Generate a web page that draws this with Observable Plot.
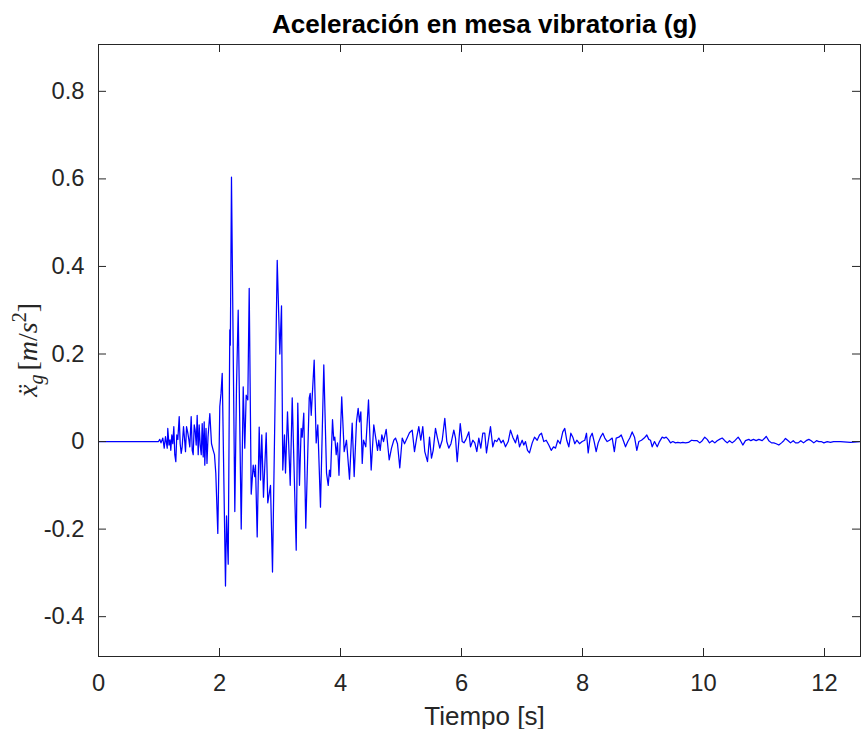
<!DOCTYPE html>
<html>
<head>
<meta charset="utf-8">
<script src="https://cdn.jsdelivr.net/npm/d3@7"></script>
<script src="https://cdn.jsdelivr.net/npm/@observablehq/plot@0.6"></script>
<style>
  html, body { margin: 0; padding: 0; background: #fff; }
</style>
</head>
<body>
<div id="chart"></div>
<script>
// ---- Data ----
const chartTitle = "Aceleración en mesa vibratoria (g)";
const xLabel = "Tiempo [s]";
const xTicks = [0, 2, 4, 6, 8, 10, 12];
const yTicks = [-0.4, -0.2, 0, 0.2, 0.4, 0.6, 0.8];
const xDomain = [0, 12.595];
const yDomain = [-0.491, 0.907];

const timeS = [
  0, 0.992, 1.013, 1.033, 1.063, 1.086, 1.107, 1.136, 1.145, 1.165, 1.182, 1.195, 1.212, 1.228, 1.245, 1.261,
  1.278, 1.294, 1.311, 1.334, 1.350, 1.367, 1.383, 1.405, 1.421, 1.438, 1.455, 1.476, 1.493, 1.509, 1.532,
  1.549, 1.565, 1.582, 1.598, 1.615, 1.631, 1.648, 1.664, 1.681, 1.698, 1.714, 1.731, 1.747, 1.757, 1.777,
  1.793, 1.810, 1.840, 1.868, 1.896, 1.917, 1.939, 1.972, 2.005, 2.025, 2.045, 2.099, 2.116, 2.144, 2.170,
  2.179, 2.198, 2.253, 2.281, 2.309, 2.359, 2.392, 2.418, 2.441, 2.468, 2.491, 2.524, 2.557, 2.583, 2.595,
  2.623, 2.656, 2.678, 2.699, 2.727, 2.772, 2.798, 2.843, 2.876, 2.954, 2.997, 3.025, 3.046, 3.074, 3.091,
  3.124, 3.169, 3.202, 3.268, 3.294, 3.322, 3.350, 3.367, 3.393, 3.426, 3.483, 3.499, 3.516, 3.565, 3.598,
  3.625, 3.669, 3.724, 3.769, 3.797, 3.818, 3.835, 3.868, 3.889, 3.906, 3.929, 3.950, 3.975, 4.020, 4.061,
  4.099, 4.149, 4.193, 4.226, 4.264, 4.292, 4.314, 4.336, 4.359, 4.380, 4.418, 4.463, 4.507, 4.550, 4.583,
  4.612, 4.633, 4.656, 4.683, 4.711, 4.755, 4.805, 4.843, 4.881, 4.909, 4.942, 4.980, 5.020, 5.058, 5.107,
  5.140, 5.185, 5.223, 5.261, 5.294, 5.327, 5.360, 5.393, 5.438, 5.471, 5.504, 5.532, 5.570, 5.603, 5.641,
  5.681, 5.724, 5.757, 5.790, 5.826, 5.873, 5.901, 5.929, 5.979, 6.012, 6.041, 6.074, 6.121, 6.149, 6.187,
  6.220, 6.253, 6.286, 6.319, 6.352, 6.385, 6.413, 6.441, 6.479, 6.517, 6.550, 6.583, 6.617, 6.656, 6.689,
  6.727, 6.772, 6.810, 6.848, 6.893, 6.926, 6.959, 7.003, 7.030, 7.058, 7.091, 7.124, 7.169, 7.207, 7.251,
  7.289, 7.322, 7.360, 7.400, 7.443, 7.483, 7.521, 7.554, 7.592, 7.631, 7.674, 7.707, 7.740, 7.774, 7.807,
  7.840, 7.873, 7.906, 7.950, 7.995, 8.038, 8.066, 8.094, 8.127, 8.160, 8.193, 8.226, 8.259, 8.298, 8.336,
  8.369, 8.408, 8.446, 8.491, 8.526, 8.557, 8.600, 8.640, 8.673, 8.711, 8.749, 8.782, 8.821, 8.860, 8.898,
  8.931, 8.975, 9.020, 9.063, 9.096, 9.124, 9.152, 9.190, 9.235, 9.273, 9.317, 9.350, 9.383, 9.417, 9.455,
  9.493, 9.537, 9.575, 9.620, 9.658, 9.702, 9.752, 9.802, 9.840, 9.896, 9.939, 9.979, 10.021, 10.061, 10.099,
  10.144, 10.187, 10.226, 10.264, 10.309, 10.352, 10.392, 10.430, 10.474, 10.518, 10.573, 10.612, 10.650, 10.694, 10.749,
  10.782, 10.826, 10.871, 10.914, 10.970, 11.014, 11.036, 11.079, 11.124, 11.162, 11.202, 11.245, 11.289, 11.327, 11.355,
  11.400, 11.438, 11.483, 11.521, 11.565, 11.608, 11.653, 11.697, 11.741, 11.780, 11.823, 11.868, 11.906, 11.945, 11.989,
  12.045, 12.099, 12.149, 12.264, 12.430, 12.595
];

const accelG = [
  0, 0, 0.005, -0.003, 0.008, -0.015, 0.011, -0.015, 0.030, -0.008, 0.004, -0.020, 0.015, -0.005, 0.034, -0.030,
  -0.046, 0.015, 0.005, 0.057, -0.005, -0.027, -0.012, 0.034, 0.008, -0.023, 0.034, 0.020, 0.005, -0.012, 0.057,
  -0.020, -0.030, 0.038, 0.026, -0.008, 0.060, -0.030, 0.038, -0.008, -0.030, 0.041, -0.035, 0.045, -0.054, 0.030,
  -0.050, 0.010, 0.064, -0.005, -0.020, -0.030, -0.073, -0.210, 0.080, 0.110, 0.156, -0.330, -0.170, -0.280, 0.255,
  0.220, 0.604, -0.160, 0.125, 0.300, -0.200, 0.125, -0.015, 0.106, 0.095, 0.350, -0.120, -0.054, -0.080, -0.054,
  -0.218, 0.033, -0.088, 0.015, -0.127, 0.020, -0.140, -0.100, -0.298, 0.414, 0.200, 0.310, -0.065, 0.015, -0.072,
  0.068, -0.100, 0.100, -0.248, 0.088, -0.100, 0.030, 0.010, 0.065, -0.198, 0.100, 0.110, 0.060, 0.186, -0.003,
  0.038, -0.150, 0.175, -0.072, -0.100, -0.065, -0.080, 0.050, 0.003, 0.010, -0.030, -0.003, -0.077, 0.102, -0.023,
  0.003, -0.086, 0.042, -0.080, 0.045, 0.076, 0.045, 0.068, -0.050, 0.003, -0.012, 0.095, -0.065, 0.038, 0.008,
  -0.020, 0.003, -0.020, 0.015, 0.000, 0.028, -0.042, -0.015, 0.003, 0.008, -0.005, -0.060, 0.008, -0.005, 0.010,
  0.020, 0.026, -0.023, 0.010, 0.034, 0.003, 0.034, -0.023, -0.046, 0.010, -0.038, -0.020, 0.030, 0.008, -0.015,
  0.003, 0.053, 0.000, -0.015, -0.005, 0.026, 0.008, -0.046, 0.041, 0.000, -0.003, 0.005, 0.022, -0.012, 0.003,
  -0.003, -0.023, 0.008, -0.015, 0.019, 0.019, -0.026, 0.000, 0.034, -0.012, 0.003, 0.000, 0.008, -0.003, 0.003,
  -0.012, 0.000, 0.026, 0.010, -0.003, 0.015, -0.012, 0.003, -0.008, 0.000, -0.020, -0.026, -0.003, 0.010, 0.003,
  0.015, 0.019, 0.000, 0.003, -0.008, -0.020, -0.012, -0.015, 0.003, -0.005, 0.022, 0.030, 0.003, -0.012, 0.019,
  0.010, -0.005, 0.003, -0.005, 0.000, 0.003, 0.019, -0.026, 0.010, 0.019, 0.000, -0.023, -0.003, 0.010, 0.019,
  0.008, 0.000, 0.003, 0.008, -0.023, 0.008, 0.010, 0.015, 0.003, -0.012, 0.000, 0.008, 0.022, 0.010, -0.020,
  0.000, 0.003, 0.008, 0.015, 0.005, 0.003, -0.012, 0.000, -0.012, 0.000, 0.010, 0.008, 0.010, 0.005, -0.003,
  0.000, -0.003, -0.002, -0.003, -0.002, -0.003, -0.002, 0.003, 0.002, 0.002, -0.003, 0.002, 0.010, 0.005, -0.003,
  0.002, -0.003, 0.002, 0.005, 0.008, 0.002, -0.003, 0.002, -0.003, 0.002, 0.010, 0.002, -0.008, 0.002, 0.005,
  0.002, 0.005, 0.002, 0.005, 0.002, 0.008, 0.012, 0.002, -0.003, -0.003, -0.005, -0.008, -0.003, 0.002, 0.007,
  0.002, -0.003, 0.002, -0.003, -0.003, 0.002, -0.003, 0.002, 0.005, 0.002, -0.003, 0.002, 0.000, 0.000, -0.003,
  0.000, -0.002, 0.000, 0.000, -0.002, 0.000
];

const data = timeS.map((t, i) => ({t, a: accelG[i]}));

// ---- Layout ----
const W = 861, H = 729;
const mTop = 44, mLeft = 98, mRight = 1, mBottom = 73;
const frameW = W - mLeft - mRight, frameH = H - mTop - mBottom;
const tickLen = 8;
const axisColor = "#262626";
const fmt = d => String(d);

const chart = Plot.plot({
  width: W,
  height: H,
  marginTop: mTop,
  marginLeft: mLeft,
  marginRight: mRight,
  marginBottom: mBottom,
  style: {fontFamily: "'Liberation Sans', Arial, Helvetica, sans-serif", fontSize: "23.7px", color: axisColor, background: "#fff"},
  x: {domain: xDomain, ticks: xTicks},
  y: {domain: yDomain, ticks: yTicks},
  marks: [
    Plot.line(data, {x: "t", y: "a", stroke: "#0000ff", strokeWidth: 1.25, clip: true}),
    Plot.tickX(xTicks, {x: d => d, insetTop: frameH - tickLen, stroke: axisColor}),
    Plot.tickX(xTicks, {x: d => d, insetBottom: frameH - tickLen, stroke: axisColor}),
    Plot.tickY(yTicks, {y: d => d, insetRight: frameW - tickLen, stroke: axisColor}),
    Plot.tickY(yTicks, {y: d => d, insetLeft: frameW - tickLen, stroke: axisColor}),
    Plot.frame({stroke: axisColor, strokeWidth: 1}),
    Plot.axisX(xTicks, {tickSize: 0, tickPadding: 18, label: null, tickFormat: fmt, fontSize: 23.7, fill: axisColor}),
    Plot.axisY(yTicks, {tickSize: 0, tickPadding: 14, label: null, tickFormat: fmt, fontSize: 23.7, fill: axisColor}),
    Plot.text([chartTitle], {frameAnchor: "top", lineAnchor: "bottom", dy: -12, dx: 5, fontSize: 26, fontWeight: "bold", fill: "#000"}),
    Plot.text([xLabel], {frameAnchor: "bottom", lineAnchor: "bottom", dy: 68, dx: 5, fontSize: 26, fill: axisColor})
  ]
});

// y-axis label with math formatting (ẍ_g [m/s²])
const svg = d3.select(chart);
const lab = svg.append("text")
  .attr("transform", `translate(37,${mTop + frameH / 2}) rotate(-90)`)
  .attr("text-anchor", "middle")
  .attr("font-family", "'Liberation Serif', 'DejaVu Serif', serif")
  .attr("font-size", 28)
  .attr("fill", axisColor);
lab.append("tspan").attr("font-style", "italic").text("ẍ");
lab.append("tspan").attr("font-style", "italic").attr("font-size", 20).attr("dy", 6).text("g");
lab.append("tspan").attr("dy", -6).attr("dx", 4).text("[");
lab.append("tspan").attr("font-style", "italic").text("m");
lab.append("tspan").text("/");
lab.append("tspan").attr("font-style", "italic").text("s");
lab.append("tspan").attr("font-size", 20).attr("dy", -11).text("2");
lab.append("tspan").attr("dy", 11).text("]");

document.getElementById("chart").appendChild(chart);
</script>
</body>
</html>
